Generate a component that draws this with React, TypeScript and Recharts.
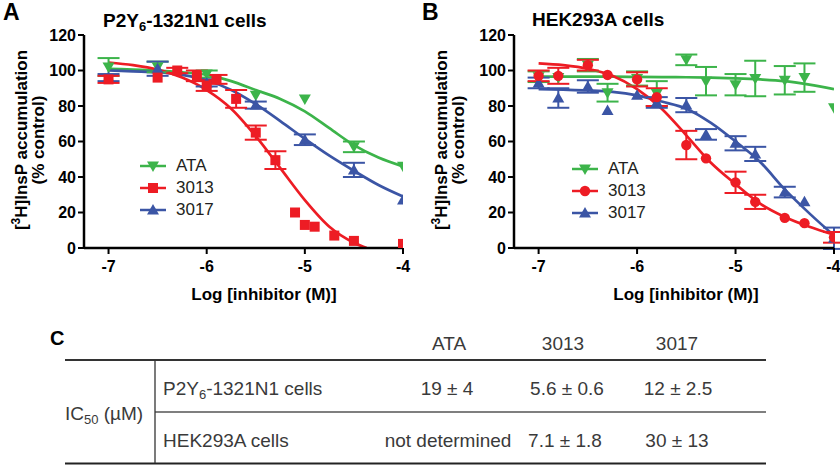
import React from "react";
import {
  ComposedChart,
  Line,
  Scatter,
  ErrorBar,
  XAxis,
  YAxis,
  Legend,
} from "recharts";

// colours used by Prism
const GREEN = "#3cb44a";
const RED = "#ed1c24";
const BLUE = "#3b55a5";

const xTicks = [-7, -6, -5, -4];
const yTicks = [0, 20, 40, 60, 80, 100, 120];

// fitted curves
const fitX = [-7, -6.75, -6.5, -6.25, -6, -5.75, -5.5, -5.25, -5, -4.75, -4.5, -4.25, -4];
const ataFitA = [101, 100.5, 100, 99, 97.5, 94, 89, 84, 77, 67.5, 58, 51, 46];
const blueFitA = [100, 99.5, 99, 97.5, 94.5, 89, 81, 71.5, 61.5, 52, 43.5, 35.5, 29];
const redFitXA = [-7, -6.75, -6.5, -6.25, -6, -5.75, -5.5, -5.25, -5, -4.75, -4.5, -4.37];
const redFitA = [104.5, 103, 100.5, 96, 89, 78.5, 63, 45, 27, 12, 3, 0];

const ataFitB = [96.5, 96.5, 96.5, 96.5, 96.4, 96.3, 96.2, 96, 95.6, 95, 94, 92, 89.5];
const redFitB = [104, 103, 101, 97, 89.5, 78.5, 63.5, 48, 36, 25, 17.5, 12, 7.5];
const blueFitB = [89.5, 89.2, 88.8, 88, 86, 82.5, 78.5, 70.5, 60, 48.5, 33, 19.5, 7];

// measured points, panel A
const ataXA = [-7, -6.5, -6, -5.5, -5, -4.5, -4];
const ataYA = [102, 102, 98, 86, 84, 57, 46];
const ataEA = [5, 3, 2, 0, 0, 3, 0];
const redXA = [-7, -6.5, -6.3, -6.1, -6, -5.9, -5.7, -5.5, -5.3, -5.1, -5, -4.9, -4.7, -4.5, -4];
const redYA = [95, 96, 100, 97, 91.5, 95, 84, 65, 49.5, 20, 13, 12, 7, 4, 2.3];
const redEA = [2, 0, 1.5, 3, 3, 2.5, 5, 4, 5, 0, 0, 0, 0, 0, 0];
const blueXA = [-7, -6.5, -6, -5.5, -5, -4.5, -4];
const blueYA = [96, 101, 93, 80.5, 61, 44, 27];
const blueEA = [2, 4, 2, 2, 3, 4, 0];

// measured points, panel B
const concB = [-7, -6.8, -6.5, -6.3, -6, -5.8, -5.5, -5.3, -5, -4.8, -4.5, -4.3, -4];
const ataYB = [96.5, 96, 103, 87.5, 95.5, 87, 106, 94, 92, 95.5, 94.5, 96, 79];
const ataEB = [3, 0, 3.5, 5, 4, 7, 3, 8, 6, 10, 8, 8, 0];
const redYB = [97, 97, 103, 97.5, 95, 85, 58, 50.5, 37, 26, 17, 14, 6];
const redEB = [3, 4.5, 3, 0, 4, 5, 8, 0, 6, 4, 0, 0, 3];
const blueYB = [93, 84.5, 91, 77.5, 86, 82, 80.5, 64, 59, 53, 31.5, 26, 5.5];
const blueEB = [3, 5.5, 3.5, 0, 0, 3, 4, 3, 4, 4, 3, 0, 6];

const legendNames = ["ATA", "3013", "3017"];

const toLine = (xs: number[], ys: number[]) => xs.map((x, i) => ({ x, y: ys[i] }));
const toPts = (xs: number[], ys: number[], es: number[]) =>
  xs.map((x, i) => ({ x, y: ys[i], e: es[i] || null }));

type Kind = "down" | "up" | "square" | "circle";

const Marker = ({ kind, cx, cy, color }: { kind: Kind; cx: number; cy: number; color: string }) => {
  if (kind === "square") return <rect x={cx - 5} y={cy - 5} width={10} height={10} fill={color} />;
  if (kind === "circle") return <circle cx={cx} cy={cy} r={5.2} fill={color} />;
  if (kind === "up")
    return <polygon points={`${cx - 6},${cy + 4.5} ${cx + 6},${cy + 4.5} ${cx},${cy - 6}`} fill={color} />;
  return <polygon points={`${cx - 6},${cy - 4.5} ${cx + 6},${cy - 4.5} ${cx},${cy + 6}`} fill={color} />;
};

const shapeOf = (kind: Kind, color: string) => (p: any) =>
  <Marker kind={kind} cx={p.cx} cy={p.cy} color={color} />;

type Series = {
  name: string;
  color: string;
  kind: Kind;
  fit: { x: number; y: number }[];
  pts: { x: number; y: number; e: number | null }[];
};

const seriesA: Series[] = [
  { name: "ATA", color: GREEN, kind: "down", fit: toLine(fitX, ataFitA), pts: toPts(ataXA, ataYA, ataEA) },
  { name: "3017", color: BLUE, kind: "up", fit: toLine(fitX, blueFitA), pts: toPts(blueXA, blueYA, blueEA) },
  { name: "3013", color: RED, kind: "square", fit: toLine(redFitXA, redFitA), pts: toPts(redXA, redYA, redEA) },
];

const seriesB: Series[] = [
  { name: "ATA", color: GREEN, kind: "down", fit: toLine(fitX, ataFitB), pts: toPts(concB, ataYB, ataEB) },
  { name: "3017", color: BLUE, kind: "up", fit: toLine(fitX, blueFitB), pts: toPts(concB, blueYB, blueEB) },
  { name: "3013", color: RED, kind: "circle", fit: toLine(fitX, redFitB), pts: toPts(concB, redYB, redEB) },
];

const LegendBox = ({ series }: { series: Series[] }) => (
  <div>
    {legendNames.map((n) => {
      const s = series.find((q) => q.name === n)!;
      return (
        <div key={n} style={{ display: "flex", alignItems: "center", height: 22 }}>
          <svg width={26} height={14}>
            <line x1={0} x2={26} y1={7} y2={7} stroke={s.color} strokeWidth={2.5} />
            <Marker kind={s.kind} cx={13} cy={7} color={s.color} />
          </svg>
          <span style={{ marginLeft: 10, fontSize: 17, color: "#231f20" }}>{n}</span>
        </div>
      );
    })}
  </div>
);

const axisLine = { stroke: "#000", strokeWidth: 2.5 };
const tickLine = { stroke: "#000", strokeWidth: 2 };
const tickFont = { fontSize: 16, fontWeight: 700, fill: "#000" };

const Panel = ({ series, yWidth, right, legendLeft, legendTop }: any) => (
  <ComposedChart width={420} height={300} margin={{ top: 35, right, bottom: 22, left: 0 }}>
    <XAxis
      type="number"
      dataKey="x"
      domain={[-7.25, -4]}
      ticks={xTicks}
      allowDataOverflow
      height={30}
      tickSize={6}
      tickMargin={7}
      axisLine={axisLine}
      tickLine={tickLine}
      tick={tickFont}
    />
    <YAxis
      type="number"
      domain={[0, 120]}
      ticks={yTicks}
      allowDataOverflow
      width={yWidth}
      tickSize={6}
      axisLine={axisLine}
      tickLine={tickLine}
      tick={tickFont}
    />
    <Legend
      layout="vertical"
      align="center"
      verticalAlign="middle"
      wrapperStyle={{ left: legendLeft, top: legendTop, width: "auto" }}
      content={() => <LegendBox series={series} />}
    />
    {series.map((s: Series) => (
      <Line
        key={"f" + s.name}
        data={s.fit}
        dataKey="y"
        type="monotone"
        stroke={s.color}
        strokeWidth={2.7}
        dot={false}
        activeDot={false}
        isAnimationActive={false}
      />
    ))}
    {series.map((s: Series) => (
      <Scatter
        key={"p" + s.name}
        data={s.pts}
        dataKey="y"
        fill={s.color}
        shape={shapeOf(s.kind, s.color)}
        isAnimationActive={false}
      >
        <ErrorBar dataKey="e" direction="y" width={11} stroke={s.color} strokeWidth={2} />
      </Scatter>
    ))}
  </ComposedChart>
);

const bold = { fontWeight: 700, fill: "#000" } as const;
const cell = { fontSize: 19, fill: "#3a3a3a" } as const;

const YLabel = ({ x, y }: { x: number; y: number }) => (
  <g style={bold} fontSize={17}>
    <text transform={`translate(${x},${y}) rotate(-90)`} textAnchor="middle">
      [<tspan fontSize={12} dy={-7}>3</tspan>
      <tspan dy={7}>H]InsP accumulation</tspan>
    </text>
    <text transform={`translate(${x + 17},${y}) rotate(-90)`} textAnchor="middle">
      (% control)
    </text>
  </g>
);

const App = () => (
  <div
    style={{
      position: "absolute",
      left: 0,
      top: 0,
      width: 840,
      height: 465,
      background: "#fff",
      overflow: "hidden",
      fontFamily: "'Liberation Sans', Arial, sans-serif",
    }}
  >
    <div style={{ position: "absolute", left: 0, top: 0 }}>
      <Panel series={seriesA} yWidth={84} right={17} legendLeft={140} legendTop={155} />
    </div>
    <div style={{ position: "absolute", left: 420, top: 0 }}>
      <Panel series={seriesB} yWidth={94} right={6} legendLeft={152} legendTop={158} />
    </div>
    <svg
      width={840}
      height={465}
      style={{ position: "absolute", left: 0, top: 0, pointerEvents: "none" }}
    >
      {/* panel letters and titles */}
      <text x={3} y={20} fontSize={23} style={bold}>A</text>
      <text x={422} y={20} fontSize={23} style={bold}>B</text>
      <text x={103} y={27} fontSize={19} style={bold}>
        P2Y<tspan fontSize={13} dy={4}>6</tspan>
        <tspan dy={-4}>-1321N1 cells</tspan>
      </text>
      <text x={532} y={26} fontSize={19} style={bold}>HEK293A cells</text>
      <YLabel x={27} y={140} />
      <YLabel x={447} y={140} />
      <text x={264} y={300} fontSize={17} textAnchor="middle" style={bold}>Log [inhibitor (M)]</text>
      <text x={686} y={300} fontSize={17} textAnchor="middle" style={bold}>Log [inhibitor (M)]</text>

      {/* table C */}
      <text x={50} y={345} fontSize={20} style={bold}>C</text>
      <text x={449} y={350} textAnchor="middle" style={cell}>ATA</text>
      <text x={563} y={350} textAnchor="middle" style={cell}>3013</text>
      <text x={677} y={350} textAnchor="middle" style={cell}>3017</text>
      <line x1={65} x2={766} y1={360} y2={360} stroke="#333" strokeWidth={1.8} />
      <line x1={155} x2={766} y1={412} y2={412} stroke="#555" strokeWidth={1.5} />
      <line x1={65} x2={766} y1={463.5} y2={463.5} stroke="#222" strokeWidth={2.2} />
      <line x1={155} x2={155} y1={360} y2={463} stroke="#333" strokeWidth={1.3} />
      <text x={65} y={420} style={cell}>
        IC<tspan fontSize={13} dy={4}>50</tspan>
        <tspan dy={-4}> (µM)</tspan>
      </text>
      <text x={163} y={395} style={cell}>
        P2Y<tspan fontSize={13} dy={4}>6</tspan>
        <tspan dy={-4}>-1321N1 cells</tspan>
      </text>
      <text x={447} y={395} textAnchor="middle" style={cell}>19 ± 4</text>
      <text x={567} y={395} textAnchor="middle" style={cell}>5.6 ± 0.6</text>
      <text x={678} y={395} textAnchor="middle" style={cell}>12 ± 2.5</text>
      <text x={163} y={447} style={cell}>HEK293A cells</text>
      <text x={448} y={447} textAnchor="middle" style={cell}>not determined</text>
      <text x={565} y={447} textAnchor="middle" style={cell}>7.1 ± 1.8</text>
      <text x={677} y={447} textAnchor="middle" style={cell}>30 ± 13</text>
    </svg>
  </div>
);

export default App;
